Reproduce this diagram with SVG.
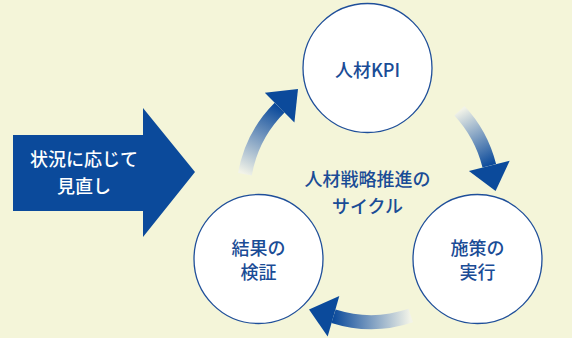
<svg xmlns="http://www.w3.org/2000/svg" width="572" height="338" viewBox="0 0 572 338">
<defs>
<style>
.node circle{fill:#ffffff;stroke:#1f4f9a;stroke-width:1.3}
.t{font-family:"Noto Sans CJK JP","Noto Sans",sans-serif;font-size:18px;font-weight:500;fill:#1a4c96;text-anchor:middle}
.body{fill:none;stroke-width:14}
.head{fill:#0b4a9b}
</style>
<linearGradient id="g1" gradientUnits="userSpaceOnUse" x1="245" y1="174" x2="280" y2="108">
<stop offset="0" stop-color="#f2f3e8"/><stop offset="1" stop-color="#0b4a9b"/>
</linearGradient>
<linearGradient id="g2" gradientUnits="userSpaceOnUse" x1="459" y1="111" x2="489" y2="166">
<stop offset="0" stop-color="#f2f3e8"/><stop offset="1" stop-color="#0b4a9b"/>
</linearGradient>
<linearGradient id="g3" gradientUnits="userSpaceOnUse" x1="410" y1="314" x2="333" y2="316">
<stop offset="0" stop-color="#f2f3e8"/><stop offset="1" stop-color="#0b4a9b"/>
</linearGradient>
</defs>
<rect width="572" height="338" fill="#f4f5d9"/>
<g id="connectors">
<path class="body" stroke="url(#g1)" d="M244.9,174.3 A125,125 0 0 1 279.6,107.6"/>
<polygon class="head" points="298,89 264.8,92.8 294.4,122.4"/>
<path class="body" stroke="url(#g2)" d="M459.4,110.7 A125,125 0 0 1 489.3,165.8"/>
<polygon class="head" points="495.6,191 509.7,160.7 468.9,170.9"/>
<path class="body" stroke="url(#g3)" d="M410.8,315.5 A125,125 0 0 1 333.5,316.2"/>
<polygon class="head" points="309,309.5 327.7,336.4 339.3,296"/>
</g>
<g id="input-arrow">
<polygon fill="#0b4a9b" points="13,135 143,135 143,108 195,172 143,237 143,211 13,211"/>
<text class="t" x="84" y="166" style="fill:#ffffff">状況に応じて</text>
<text class="t" x="84" y="193" style="fill:#ffffff">見直し</text>
</g>
<g id="kpi" class="node">
<circle cx="367.5" cy="68" r="64.5"/>
<text class="t" x="367.5" y="77">人材KPI</text>
</g>
<g id="execute" class="node">
<circle cx="477.5" cy="259" r="64.5"/>
<text class="t" x="477.5" y="255">施策の</text>
<text class="t" x="477.5" y="279">実行</text>
</g>
<g id="verify" class="node">
<circle cx="258.5" cy="259" r="64.5"/>
<text class="t" x="258.5" y="255">結果の</text>
<text class="t" x="258.5" y="279">検証</text>
</g>
<g id="center-label">
<text class="t" x="367.5" y="186">人材戦略推進の</text>
<text class="t" x="367.5" y="213">サイクル</text>
</g>
</svg>
